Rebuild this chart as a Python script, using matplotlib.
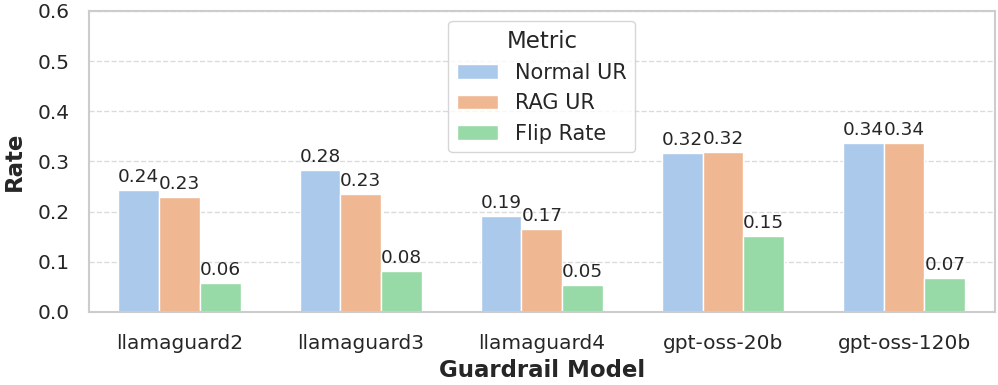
import numpy as np
import matplotlib
matplotlib.use("Agg")
import matplotlib.pyplot as plt
import seaborn as sns

sns.set_theme(style="whitegrid")
plt.rcParams["font.family"] = ["DejaVu Sans"]

models = ["llamaguard2", "llamaguard3", "llamaguard4", "gpt-oss-20b", "gpt-oss-120b"]
metrics = ["Normal UR", "RAG UR", "Flip Rate"]
normal_ur = [0.242, 0.282, 0.192, 0.316, 0.337]
rag_ur = [0.229, 0.234, 0.165, 0.319, 0.337]
flip_rate = [0.058, 0.082, 0.053, 0.152, 0.068]
series = [normal_ur, rag_ur, flip_rate]
# seaborn barplot desaturates its palette by 0.75
colors = [sns.desaturate(c, 0.75) for c in sns.color_palette("pastel")[:3]]

fig, ax = plt.subplots(figsize=(9.98, 3.85), dpi=100)
x = np.arange(len(models))
w = 0.225
for i, (name, vals, c) in enumerate(zip(metrics, series, colors)):
    bars = ax.bar(x + (i - 1) * w, vals, w, color=c, edgecolor="white", linewidth=1, label=name)
    for b in bars:
        ax.text(b.get_x() + b.get_width() / 2, b.get_height() + 0.008, f"{b.get_height():.2f}",
                ha="center", va="bottom", fontsize=13.3, color="#262626")

ax.set_xlim(-0.5, len(models) - 0.5)
ax.set_ylim(0, 0.6)
ax.set_yticks(np.arange(0, 0.61, 0.1))
ax.set_xticks(x)
ax.set_xticklabels(models)
ax.tick_params(axis="both", labelsize=14.5)
ax.tick_params(axis="x", pad=10)
ax.tick_params(axis="y", pad=8)
ax.grid(axis="y", ls="--", alpha=0.7)
ax.grid(axis="x", visible=False)
for s in ax.spines.values():
    s.set_color("#cccccc"); s.set_linewidth(1.5)
ax.set_xlabel("Guardrail Model", fontsize=16.5, fontweight="bold", labelpad=4)
ax.set_ylabel("Rate", fontsize=16.5, fontweight="bold", labelpad=8)
leg = ax.legend(title="Metric", loc="upper center", fontsize=15, title_fontsize=16.5)

plt.tight_layout(pad=0.2)
plt.savefig("out.png", dpi=100)
